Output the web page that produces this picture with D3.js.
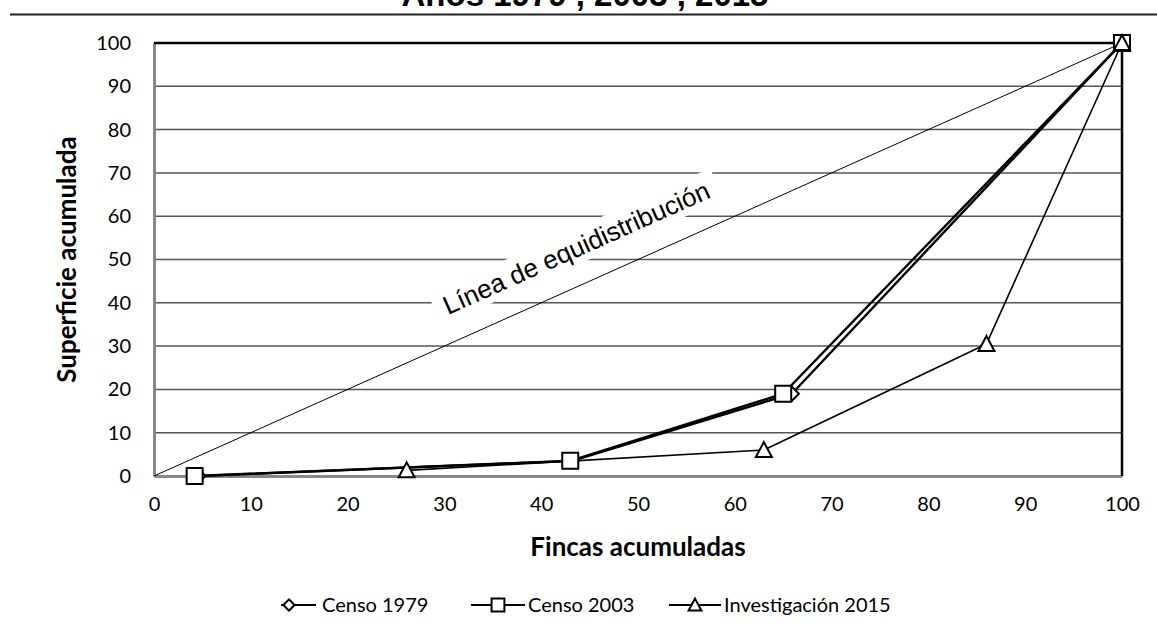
<!DOCTYPE html>
<html>
<head>
<meta charset="utf-8">
<script src="https://cdn.jsdelivr.net/npm/d3@7"></script>
<style>
    body { margin: 0; background: #fff; }
    svg { display: block; }
</style>
</head>
<body>
<svg id="chart" width="1157" height="628"></svg>
<script>
// Lorenz curve values (percent accumulated)
const seriesNames = ["Censo 1979", "Censo 2003", "Investigación 2015"];
const fincas1979 = [4.6, 43.2, 65.9, 100];
const superficie1979 = [0, 3.5, 19, 100];
const fincas2003 = [4.2, 43.0, 65.0, 100];
const superficie2003 = [0, 3.5, 19, 100];
const fincas2015 = [26.1, 63.0, 86.0, 100];
const superficie2015 = [1.3, 6.0, 30.5, 100];
const tickValues = [0, 10, 20, 30, 40, 50, 60, 70, 80, 90, 100];

const svg = d3.select("#chart");

const x = d3.scaleLinear().domain([0, 100]).range([154, 1122]);
const y = d3.scaleLinear().domain([0, 100]).range([476, 43]);

const tickFont = "Lato, 'Open Sans', sans-serif";

// marker shapes
const markers = {
    diamond: "M0,-7L7,0L0,7L-7,0Z",
    square: "M-8,-8H8V8H-8Z",
    triangle: "M0,-8L8,7H-8Z"
};

const series = [
    { name: seriesNames[0], xs: fincas1979, ys: superficie1979, marker: "diamond", width: 2.4 },
    { name: seriesNames[1], xs: fincas2003, ys: superficie2003, marker: "square", width: 2.4 },
    { name: seriesNames[2], xs: fincas2015, ys: superficie2015, marker: "triangle", width: 1.6 }
];

// title (cut by the top of the picture, as in the original) and rule under it
svg.append("text")
    .attr("x", 585)
    .attr("y", 6)
    .attr("text-anchor", "middle")
    .attr("font-family", "Liberation Sans, Arial, sans-serif")
    .attr("font-weight", "bold")
    .attr("font-size", "33px")
    .text("Años 1979 , 2003 , 2015");

svg.append("line")
    .attr("x1", 10).attr("x2", 1157)
    .attr("y1", 14.5).attr("y2", 14.5)
    .attr("stroke", "#222")
    .attr("stroke-width", 2);

// gridlines
svg.append("g")
    .selectAll("line")
    .data(tickValues.filter(d => d > 0 && d < 100))
    .join("line")
    .attr("x1", x(0)).attr("x2", x(100))
    .attr("y1", d => y(d)).attr("y2", d => y(d))
    .attr("stroke", "#555")
    .attr("stroke-width", 1.5);

// axes
const yAxis = svg.append("g")
    .attr("transform", `translate(${x(0)},0)`)
    .call(d3.axisLeft(y).tickValues(tickValues).tickSize(0).tickPadding(23));
const xAxis = svg.append("g")
    .attr("transform", `translate(0,${y(0)})`)
    .call(d3.axisBottom(x).tickValues(tickValues).tickSize(0).tickPadding(21));

[yAxis, xAxis].forEach(g => {
    g.select(".domain").attr("stroke", "#888").attr("stroke-width", 3);
    g.selectAll("text")
        .attr("font-family", tickFont)
        .attr("font-size", "20px")
        .attr("fill", "#000");
});

// black top and right edges of plot area
svg.append("path")
    .attr("d", `M${x(0)},${y(100)}H${x(100)}V${y(0)}`)
    .attr("fill", "none")
    .attr("stroke", "#000")
    .attr("stroke-width", 2.5);

// axis titles
svg.append("text")
    .attr("transform", `translate(76,${(y(0) + y(100)) / 2}) rotate(-90)`)
    .attr("text-anchor", "middle")
    .attr("font-family", tickFont)
    .attr("font-weight", "bold")
    .attr("font-size", "26px")
    .text("Superficie acumulada");

svg.append("text")
    .attr("x", (x(0) + x(100)) / 2)
    .attr("y", 556)
    .attr("text-anchor", "middle")
    .attr("font-family", tickFont)
    .attr("font-weight", "bold")
    .attr("font-size", "26px")
    .text("Fincas acumuladas");

// equidistribution line
svg.append("line")
    .attr("x1", x(0)).attr("y1", y(0))
    .attr("x2", x(100)).attr("y2", y(100))
    .attr("stroke", "#000")
    .attr("stroke-width", 1);

// rotated label with white box
const angle = Math.atan2(y(100) - y(0), x(100) - x(0)) * 180 / Math.PI;
const labelG = svg.append("g")
    .attr("transform", `translate(580,256) rotate(${angle})`);
const labelText = labelG.append("text")
    .attr("text-anchor", "middle")
    .attr("font-family", "Liberation Sans, Arial, sans-serif")
    .attr("font-size", "26px")
    .text("Línea de equidistribución");
const bb = labelText.node().getBBox();
labelG.insert("rect", "text")
    .attr("x", bb.x - 10).attr("y", bb.y - 3)
    .attr("width", bb.width + 20).attr("height", bb.height + 4)
    .attr("fill", "#fff");

// series lines and markers
const line = d3.line();
series.forEach(s => {
    const pts = s.xs.map((v, i) => [x(v), y(s.ys[i])]);
    svg.append("path")
        .attr("d", line(pts))
        .attr("fill", "none")
        .attr("stroke", "#000")
        .attr("stroke-width", s.width)
        .attr("stroke-linejoin", "round");
});
series.forEach(s => {
    svg.append("g")
        .selectAll("path")
        .data(s.xs.map((v, i) => [x(v), y(s.ys[i])]))
        .join("path")
        .attr("transform", d => `translate(${d[0]},${d[1]})`)
        .attr("d", markers[s.marker])
        .attr("fill", "#fff")
        .attr("stroke", "#000")
        .attr("stroke-width", 2);
});

// legend
const legendLineX1 = [281, 471, 669];
const legendLineX2 = [316, 525, 721];
const legendMarkerX = [289, 498, 695];
const legendTextX = [322, 528, 724];
const legend = svg.append("g").attr("transform", "translate(0,605)");
series.forEach((s, i) => {
    legend.append("line")
        .attr("x1", legendLineX1[i]).attr("x2", legendLineX2[i])
        .attr("stroke", "#000").attr("stroke-width", 2);
    legend.append("path")
        .attr("transform", `translate(${legendMarkerX[i]},0) scale(0.8)`)
        .attr("d", markers[s.marker])
        .attr("fill", "#fff")
        .attr("stroke", "#000")
        .attr("stroke-width", 2.5);
    legend.append("text")
        .attr("x", legendTextX[i])
        .attr("y", 7)
        .attr("font-family", tickFont)
        .attr("font-size", "20px")
        .text(s.name);
});
</script>
</body>
</html>
